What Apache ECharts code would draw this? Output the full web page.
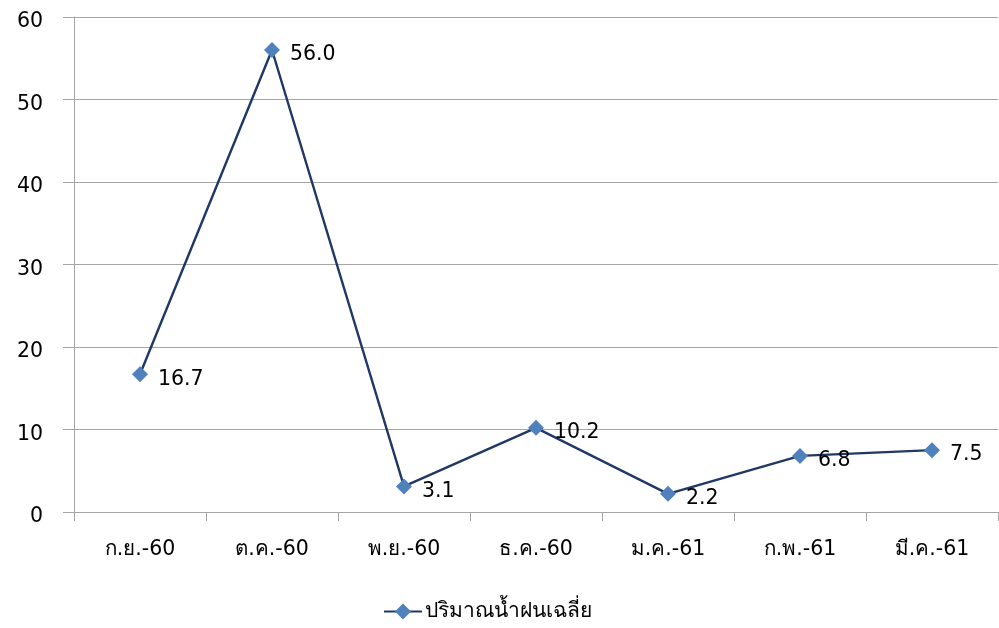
<!DOCTYPE html>
<html><head><meta charset="utf-8">
<script src="https://cdn.jsdelivr.net/npm/echarts@6/dist/echarts.min.js"></script>
<style>html,body{margin:0;padding:0;background:#fff}#c{width:999px;height:628px}</style>
</head><body><div id="c"></div>
<script>
const categories = ['ก.ย.-60','ต.ค.-60','พ.ย.-60','ธ.ค.-60','ม.ค.-61','ก.พ.-61','มี.ค.-61'];
const rainfall = [16.7, 56.0, 3.1, 10.2, 2.2, 6.8, 7.5];
const seriesName = 'ปริมาณน้ำฝนเฉลี่ย';
const yTicks = {min: 0, max: 60, interval: 10};

const FONT = '"DejaVu Sans", Verdana, "Noto Sans", sans-serif';
const chart = echarts.init(document.getElementById('c'), null, {renderer: 'canvas'});
chart.setOption({
  animation: false,
  backgroundColor: '#fff',
  textStyle: {fontFamily: FONT},
  grid: {left: 74, right: 1, top: 17, bottom: 116, containLabel: false},
  legend: {
    bottom: 1, left: 378,
    itemWidth: 38, itemHeight: 20, itemGap: 4,
    textStyle: {fontSize: 21, color: '#000', fontFamily: FONT, padding: [0, 0, 0, -2]},
    data: [{name: seriesName}]
  },
  xAxis: {
    type: 'category', data: categories, boundaryGap: true,
    axisLine: {lineStyle: {color: '#a6a6a6', width: 1}},
    axisTick: {show: true, length: 9, lineStyle: {color: '#a6a6a6'}},
    axisLabel: {fontSize: 20.5, color: '#000', margin: 27, fontFamily: FONT}
  },
  yAxis: {
    type: 'value', min: yTicks.min, max: yTicks.max, interval: yTicks.interval,
    axisLine: {show: true, lineStyle: {color: '#a6a6a6'}},
    axisTick: {show: true, length: 11, lineStyle: {color: '#a6a6a6'}},
    splitLine: {lineStyle: {color: '#a6a6a6'}},
    axisLabel: {
      margin: 31, formatter: '{a|{value}}',
      rich: {a: {fontSize: 20.5, color: '#000', fontFamily: FONT, padding: [10, 0, 0, 0]}}
    }
  },
  series: [{
    name: seriesName, type: 'line', data: rainfall,
    symbol: 'diamond', symbolSize: 16,
    lineStyle: {color: '#1f3864', width: 2.4},
    itemStyle: {color: '#4f81bd'},
    label: {
      show: true, position: 'right', distance: 10, offset: [0, 5],
      fontSize: 20.5, color: '#000', fontFamily: FONT,
      formatter: p => p.value.toFixed(1)
    }
  }]
});
</script></body></html>
